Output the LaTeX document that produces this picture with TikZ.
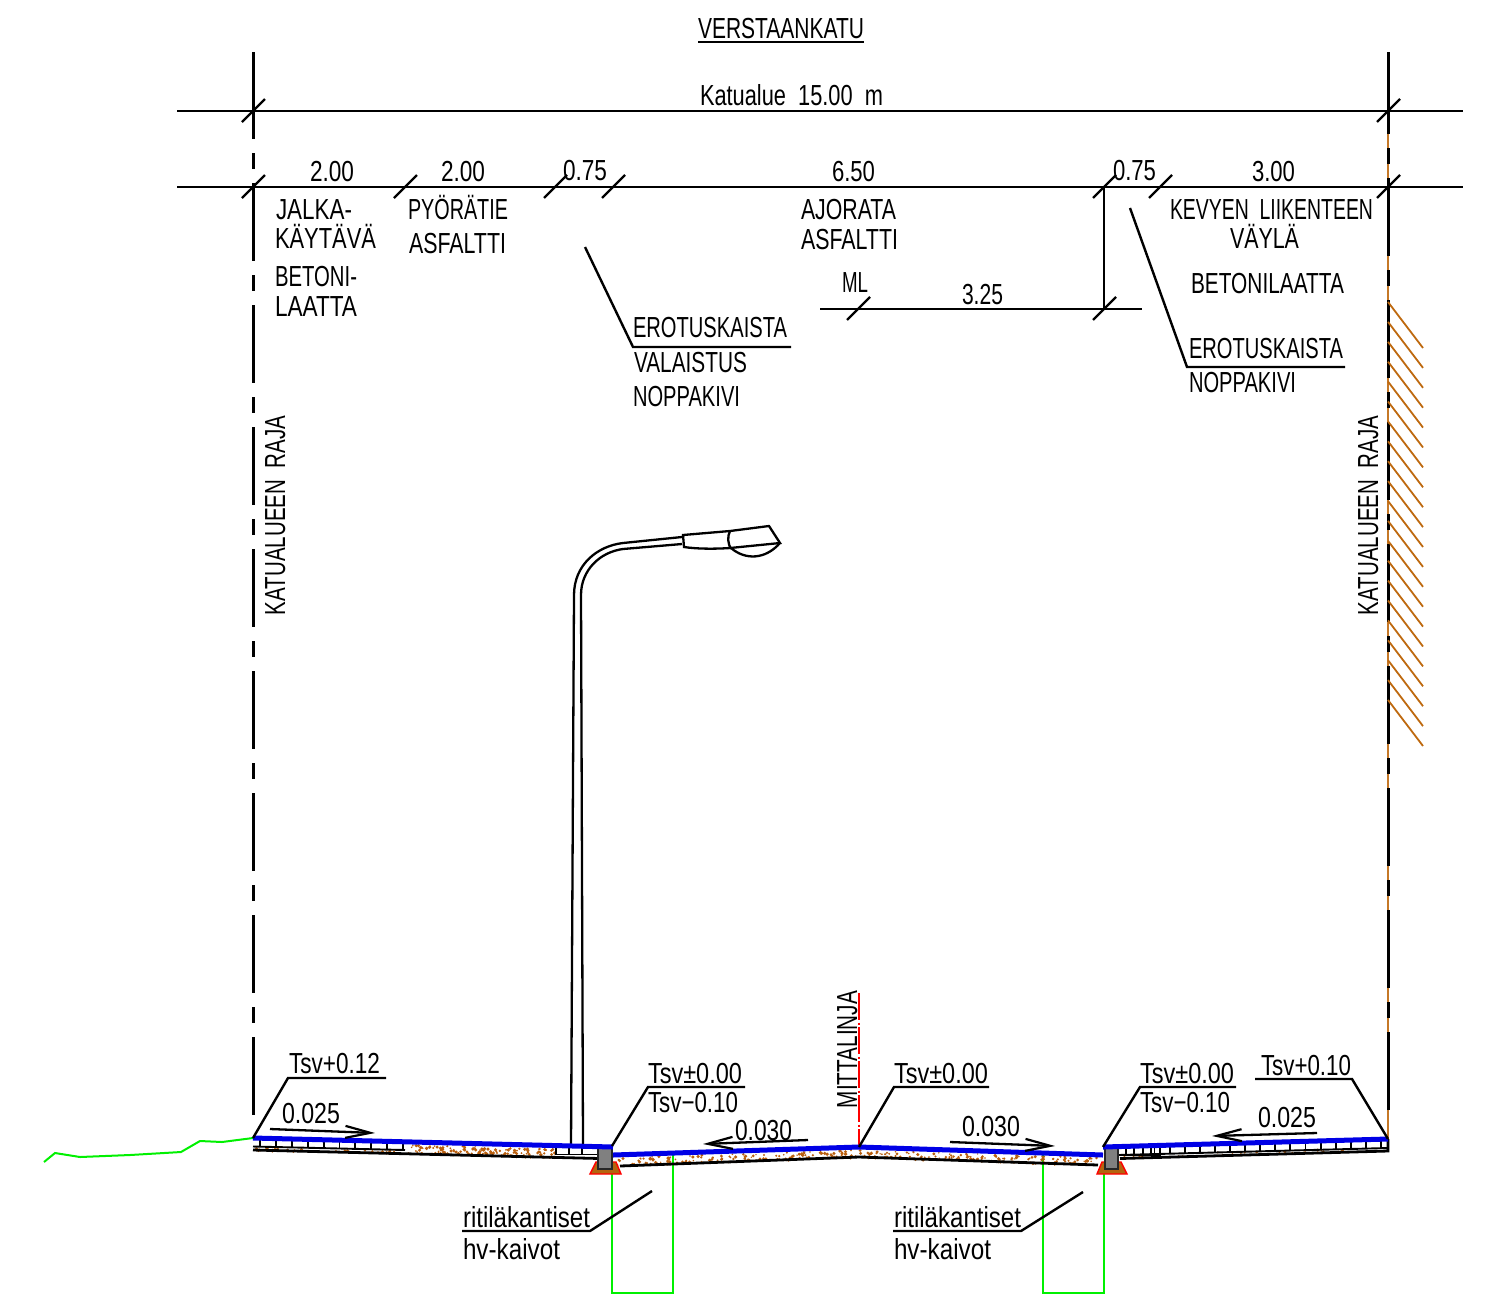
\documentclass[tikz,border=0pt]{standalone}
\usepackage{fontspec}
\usepackage{graphicx}
\setmainfont[FakeStretch=0.74]{Liberation Sans}
\usetikzlibrary{arrows.meta}
\definecolor{brownline}{RGB}{190,105,15}
\definecolor{gravelc}{RGB}{185,95,15}
\definecolor{roadblue}{RGB}{0,0,230}
\definecolor{greenl}{RGB}{0,240,0}
\tikzset{
  txt/.style={inner sep=0pt,outer sep=0pt,anchor=base west,font=\fontsize{29}{29}\selectfont},
  dim/.style={line width=2.5pt,black},
  thinl/.style={line width=2.2pt,black},
  leader/.style={line width=2.4pt,black,line join=miter},
  slope/.style={line width=2.3pt,black,-{Straight Barb[length=25pt,width=12pt,line width=2.2pt]}},
  surface/.style={line width=5pt,roadblue},
  bottoml/.style={line width=2.8pt,black},
  pit/.style={line width=2pt,greenl},
  hatchl/.style={line width=1.8pt,brownline},
  lampl/.style={line width=2.3pt,black},
  wtick/.style={line width=1.9pt,black},
  curb/.style={draw=black!85,line width=2pt,fill=black!50},
  footing/.style={draw=red,line width=1.4pt,fill=brownline!95!black},
  bound/.style={line width=3pt,black,dash pattern=on 78pt off 14pt on 16pt off 14pt},
}
% name, x, baseline y, target width, text
\newcommand{\T}[5]{\node[txt] (#1) at (#2,#3) {\resizebox{#4pt}{\height}{#5}};}
\newcommand{\R}[5]{\node[txt,rotate=90] (#1) at (#2,#3) {\resizebox{#4pt}{\height}{#5}};}
\newcommand{\tickm}[2]{\draw[thinl] (#1-11,#2+11) -- (#1+12,#2-12);}
\newcommand{\gravel}[6]{%
  \foreach \i in {1,...,#1}{%
    \pgfmathsetmacro{\ru}{rnd}\pgfmathsetmacro{\rv}{rnd}\pgfmathsetmacro{\rs}{1.5+2.2*rnd}%
    \pgfmathsetmacro{\gx}{#2+(#4-#2)*\ru}\pgfmathsetmacro{\gy}{#3+(#5-#3)*\ru+#6*\rv}%
    \fill[gravelc] (\gx,\gy) circle[radius=\rs*0.5];}}
\begin{document}
\begin{tikzpicture}[x=1pt,y=-1pt]
\useasboundingbox (0,0) rectangle (1493,1294);
\pgfmathsetseed{4711}
% named anchors
\coordinate (dimAL) at (177,111); \coordinate (dimAR) at (1463,111);
\coordinate (dimBL) at (177,187); \coordinate (dimBR) at (1463,187);
\coordinate (dimCL) at (820,309); \coordinate (dimCR) at (1142,309);
\coordinate (dimV1) at (1104,187); \coordinate (dimV2) at (1104,309);
\coordinate (blT) at (253,52); \coordinate (blB) at (253,1118);
\coordinate (brT) at (1388,52); \coordinate (brB) at (1388,1139);
\coordinate (sA) at (253,1138); \coordinate (sB) at (613,1147);
\coordinate (sC) at (613,1155); \coordinate (sD) at (859,1147);
\coordinate (sE) at (1103,1155); \coordinate (sF) at (1103,1147);
\coordinate (sG) at (1388,1139);

% dimension lines
\draw[dim] (dimAL) -- (dimAR);
\draw[dim] (dimBL) -- (dimBR);
\draw[dim] (dimCL) -- (dimCR);
\draw[dim] (dimV1) -- (dimV2);
\tickm{253}{111}\tickm{1388}{111}
\tickm{253}{187}\tickm{405}{187}\tickm{555}{187}\tickm{613}{187}
\tickm{1104}{187}\tickm{1160}{187}\tickm{1388}{187}
\tickm{858}{309}\tickm{1104}{309}

% boundary lines
\draw[line width=3pt] (blT) -- (253,62);
\draw[bound,dash phase=113pt] (blT) -- (blB);
\draw[line width=2.4pt,brownline!90] (brT) -- (brB);
\draw[line width=3pt] (brT) -- (1388,62);
\draw[bound,dash phase=118pt] (brT) -- (1388,1118);
% hatching
\foreach \k in {0,...,20}{\draw[hatchl] (1388,302+19.9*\k) -- (1423,348+19.9*\k);}

% centre line
\draw[red,line width=2pt,dash pattern=on 27pt off 2.5pt on 2pt off 2.5pt] (859,993) -- (sD);

% green ground and pits
\draw[pit] (44,1162) -- (55,1153) -- (80,1157) -- (130,1155) -- (181,1152) -- (200,1141) -- (222,1142) -- (sA);
\draw[pit] (612,1174) -- (612,1293) -- (673,1293) -- (673,1155);
\draw[pit] (1043,1155) -- (1043,1293) -- (1104,1293) -- (1104,1172);

% gravel
\gravel{140}{408}{1145}{555}{1149}{9}
\gravel{140}{615}{1158}{859}{1150}{8}
\gravel{140}{859}{1150}{1103}{1158}{8}
\gravel{30}{255}{1148}{405}{1151}{3}
\gravel{30}{1120}{1155}{1388}{1148}{3}

% left walkway
\foreach \k in {0,...,9}{%
  \pgfmathsetmacro{\xx}{260+15.9*\k}\pgfmathsetmacro{\yy}{1138+(\xx-253)*0.025}
  \draw[wtick] (\xx,\yy) -- (\xx,\yy+9);}
\draw[wtick] (253,1146.5) -- (405,1150);
\draw[bottoml] (253,1150) -- (600,1158.5);
\draw[wtick] (556,1146) rectangle (598,1154.5);
\foreach \xx in {569,582}{\draw[wtick] (\xx,1146) -- (\xx,1154.5);}
% road bottom
\draw[bottoml] (620,1166) -- (859,1157) -- (1098,1165);
% right walkway
\foreach \k in {0,...,15}{%
  \pgfmathsetmacro{\xx}{1381-15.1*\k}\pgfmathsetmacro{\yy}{1139+(1388-\xx)*0.028}
  \draw[wtick] (\xx,\yy) -- (\xx,\yy+9);}
\draw[wtick] (1118,1155) -- (1388,1148);
\draw[bottoml] (1120,1158.5) -- (1388,1151) -- (1388,1139);
\draw[wtick] (1118,1146) rectangle (1160,1155);
\foreach \xx in {1126,1134,1143,1151}{\draw[wtick] (\xx,1147) -- (\xx,1155);}

% footings and kerbs
\draw[footing] (590,1174) -- (621,1174) -- (616,1162) -- (596,1162) -- cycle;
\draw[footing] (1097,1174) -- (1127,1174) -- (1121,1162) -- (1102,1162) -- cycle;
\draw[curb] (598,1148) rectangle (612,1169);
\draw[curb] (1105,1148) rectangle (1118,1169);
\draw[line width=3pt] (596,1147) -- (613,1147);
\draw[line width=3pt] (1103,1147) -- (1119,1147);

% lamp
\draw[lampl] (571,1146) -- (574,595) .. controls (574,565) and (597,546) .. (623,543) -- (682,537);
\draw[lampl] (583,1146) -- (581,595) .. controls (581,570) and (600,552) .. (623,549) -- (682,544);
\draw[lampl] (683,535) -- (730,531) -- (769,526) -- (780,543) -- (730,548) .. controls (715,549) and (697,549) .. (684,547) -- cycle;
\draw[lampl] (730,531) .. controls (727,537) and (728,544) .. (731,549);
\draw[lampl] (731,548) .. controls (745,560) and (765,560) .. (780,543);

% surfaces
\draw[surface] (sA) -- (sB);
\draw[surface] (sC) -- (sD) -- (sE);
\draw[surface] (sF) -- (sG);

% leaders
\draw[leader] (585,247) -- (633,347) -- (791,347);
\draw[leader] (1130,208) -- (1187,367) -- (1345,367);
\draw[leader] (sA) -- (288,1078) -- (386,1078);
\draw[leader] (612,1146) -- (648,1087) -- (745,1087);
\draw[leader] (sD) -- (894,1087) -- (989,1087);
\draw[leader] (sF) -- (1140,1087) -- (1236,1087);
\draw[leader] (sG) -- (1352,1079) -- (1255,1079);
\draw[leader] (462,1231) -- (590,1231) -- (652,1191);
\draw[leader] (893,1231) -- (1021,1231) -- (1083,1192);
\draw[leader] (698,42) -- (864,42);

% slopes
\draw[slope] (270,1129) -- (375,1133);
\draw[slope] (808,1140) -- (703,1144);
\draw[slope] (950,1142) -- (1055,1146);
\draw[slope] (1317,1133) -- (1212,1136);

% texts
\T{t1}{698}{38.5}{166}{VERSTAANKATU}
\T{t2}{700}{105.5}{183}{Katualue\ \ 15.00\ \ m}
\T{t3}{310}{181.5}{44}{2.00}
\T{t4}{441}{181.5}{44}{2.00}
\T{t5}{563}{180.5}{44}{0.75}
\T{t6}{832}{181.5}{43}{6.50}
\T{t7}{1113}{180.5}{43}{0.75}
\T{t8}{1252}{181.5}{43}{3.00}
\T{t9}{276}{219.5}{76}{JALKA-}
\T{t10}{275}{248.5}{101}{KÄYTÄVÄ}
\T{t11}{275}{286.5}{82}{BETONI-}
\T{t12}{275}{316.5}{82}{LAATTA}
\T{t13}{408}{219.5}{100}{PYÖRÄTIE}
\T{t14}{409}{253.5}{97}{ASFALTTI}
\T{t15}{801}{219.5}{95}{AJORATA}
\T{t16}{801}{249}{97}{ASFALTTI}
\T{t17}{842}{292}{26}{ML}
\T{t18}{962}{304}{41}{3.25}
\T{t19}{633}{337}{154}{EROTUSKAISTA}
\T{t20}{634}{372}{113}{VALAISTUS}
\T{t21}{633}{406}{107}{NOPPAKIVI}
\T{t22}{1170}{219.5}{203}{KEVYEN\ \ LIIKENTEEN}
\T{t23}{1230}{248.5}{69}{VÄYLÄ}
\T{t24}{1191}{293}{153}{BETONILAATTA}
\T{t25}{1189}{358}{154}{EROTUSKAISTA}
\T{t26}{1189}{392}{107}{NOPPAKIVI}
\T{t27}{289}{1073.5}{91}{Tsv+0.12}
\T{t28}{282}{1123.5}{58}{0.025}
\T{t29}{648}{1083}{94}{Tsv±0.00}
\T{t30}{648}{1112}{90}{Tsv−0.10}
\T{t31}{735}{1140}{57}{0.030}
\T{t32}{894}{1083}{94}{Tsv±0.00}
\T{t33}{962}{1136}{58}{0.030}
\T{t34}{1140}{1083}{94}{Tsv±0.00}
\T{t35}{1140}{1112}{90}{Tsv−0.10}
\T{t36}{1261}{1075.5}{90}{Tsv+0.10}
\T{t37}{1258}{1127.5}{58}{0.025}
\T{t38}{463}{1227.5}{127}{ritiläkantiset}
\T{t39}{463}{1259}{97}{hv-kaivot}
\T{t40}{894}{1227.5}{127}{ritiläkantiset}
\T{t41}{894}{1259}{97}{hv-kaivot}
\R{t42}{285}{615}{199}{KATUALUEEN\ \ RAJA}
\R{t43}{1378}{615}{199}{KATUALUEEN\ \ RAJA}
\R{t44}{857}{1108}{117}{MITTALINJA}
\end{tikzpicture}
\end{document}
